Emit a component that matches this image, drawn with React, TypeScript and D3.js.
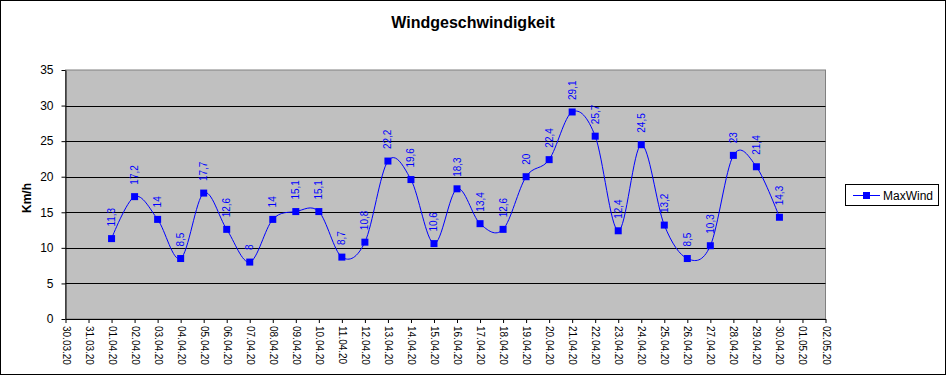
import React, { useEffect, useRef } from 'react';
import * as d3 from 'd3';

const dates = [
  '30.03.20', '31.03.20', '01.04.20', '02.04.20', '03.04.20', '04.04.20', '05.04.20', '06.04.20',
  '07.04.20', '08.04.20', '09.04.20', '10.04.20', '11.04.20', '12.04.20', '13.04.20', '14.04.20',
  '15.04.20', '16.04.20', '17.04.20', '18.04.20', '19.04.20', '20.04.20', '21.04.20', '22.04.20',
  '23.04.20', '24.04.20', '25.04.20', '26.04.20', '27.04.20', '28.04.20', '29.04.20', '30.04.20',
  '01.05.20', '02.05.20'
];

const maxWind: (number | null)[] = [
  null, null, 11.3, 17.2, 14, 8.5, 17.7, 12.6, 8, 14, 15.1, 15.1, 8.7, 10.8, 22.2, 19.6,
  10.6, 18.3, 13.4, 12.6, 20, 22.4, 29.1, 25.7, 12.4, 24.5, 13.2, 8.5, 10.3, 23, 21.4, 14.3,
  null, null
];

const yTicks = [0, 5, 10, 15, 20, 25, 30, 35];

const W = 946;
const H = 375;
const font = '"Liberation Sans", Arial, sans-serif';

export default function App() {
  const svgRef = useRef<SVGSVGElement>(null);

  useEffect(() => {
    const svg = d3.select(svgRef.current);
    svg.selectAll('*').remove();

    const left = 65.5, right = 825.5, top = 70, bottom = 319;

    const x = d3.scalePoint<string>().domain(dates).range([left, right]);
    const y = d3.scaleLinear().domain([0, 35]).range([bottom, top]);

    // outer frame
    svg.append('rect')
      .attr('x', 0.5).attr('y', 0.5)
      .attr('width', W - 1).attr('height', H - 1)
      .attr('fill', '#fff').attr('stroke', '#000');

    // plot area
    svg.append('rect')
      .attr('x', left).attr('y', top)
      .attr('width', right - left).attr('height', bottom - top)
      .attr('fill', '#c0c0c0').attr('stroke', '#808080');

    // gridlines
    svg.append('g').selectAll('line')
      .data(yTicks.filter(t => t > 0 && t < 35))
      .enter().append('line')
      .attr('x1', left).attr('x2', right)
      .attr('y1', d => Math.round(y(d)) + 0.5).attr('y2', d => Math.round(y(d)) + 0.5)
      .attr('stroke', '#000');

    // y axis
    const yAxis = svg.append('g')
      .attr('transform', `translate(${left},0)`)
      .call(d3.axisLeft(y).tickValues(yTicks).tickSize(4).tickSizeOuter(0).tickPadding(8));
    yAxis.select('.domain').attr('stroke', '#000');
    yAxis.selectAll('line').attr('stroke', '#000');
    yAxis.selectAll('text')
      .style('font-family', font).style('font-size', '12px').attr('fill', '#000');

    // x axis
    const xAxis = svg.append('g')
      .attr('transform', `translate(0,${bottom})`)
      .call(d3.axisBottom(x).tickSize(4).tickSizeOuter(0));
    xAxis.select('.domain').attr('stroke', '#000');
    xAxis.selectAll('line').attr('stroke', '#000');
    xAxis.selectAll('text')
      .style('font-family', font).style('font-size', '10px').attr('fill', '#000')
      .attr('text-anchor', 'start')
      .attr('transform', 'rotate(90)')
      .attr('x', 7).attr('y', 0).attr('dy', '0.35em');

    // title
    svg.append('text')
      .attr('x', 473).attr('y', 28)
      .attr('text-anchor', 'middle')
      .style('font-family', font).style('font-size', '16px').style('font-weight', 'bold')
      .text('Windgeschwindigkeit');

    svg.append('text')
      .attr('transform', 'translate(31,198) rotate(-90)')
      .attr('text-anchor', 'middle')
      .style('font-family', font).style('font-size', '12px').style('font-weight', 'bold')
      .text('Km/h');

    const pts = dates
      .map((d, i) => ({ d, v: maxWind[i] }))
      .filter(p => p.v !== null) as { d: string; v: number }[];

    const line = d3.line<{ d: string; v: number }>()
      .x(p => x(p.d)!)
      .y(p => y(p.v))
      .curve(d3.curveCardinal.tension(0));

    svg.append('path')
      .datum(pts)
      .attr('d', line)
      .attr('fill', 'none')
      .attr('stroke', '#0000ff')
      .attr('stroke-width', 1);

    svg.append('g').selectAll('rect')
      .data(pts)
      .enter().append('rect')
      .attr('x', p => x(p.d)! - 3.5)
      .attr('y', p => y(p.v) - 3.5)
      .attr('width', 7).attr('height', 7)
      .attr('fill', '#0000ff');

    // value labels
    svg.append('g').selectAll('text')
      .data(pts)
      .enter().append('text')
      .attr('transform', p => `translate(${x(p.d)! + 3.5},${y(p.v) - 12}) rotate(-90)`)
      .attr('text-anchor', 'start')
      .style('font-family', font).style('font-size', '10px')
      .attr('fill', '#0000ff')
      .text(p => String(p.v).replace('.', ','));

    // legend
    const lg = svg.append('g');
    lg.append('rect')
      .attr('x', 845.5).attr('y', 184.5).attr('width', 93).attr('height', 21)
      .attr('fill', '#fff').attr('stroke', '#000');
    lg.append('line')
      .attr('x1', 853).attr('x2', 880).attr('y1', 195.5).attr('y2', 195.5)
      .attr('stroke', '#0000ff');
    lg.append('rect')
      .attr('x', 863).attr('y', 192).attr('width', 7).attr('height', 7)
      .attr('fill', '#0000ff');
    lg.append('text')
      .attr('x', 883).attr('y', 200)
      .style('font-family', font).style('font-size', '12px')
      .text('MaxWind');
  }, []);

  return (
    <svg ref={svgRef} width={W} height={H}
      style={{ position: 'absolute', left: 0, top: 0, display: 'block' }} />
  );
}
